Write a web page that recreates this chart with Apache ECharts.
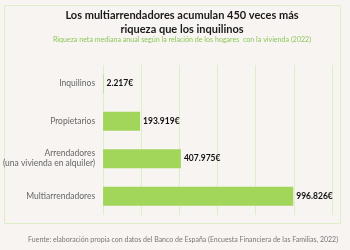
<!DOCTYPE html>
<html><head><meta charset="utf-8">
<script src="https://cdn.jsdelivr.net/npm/echarts@6/dist/echarts.min.js"></script>
<style>html,body{margin:0;padding:0;background:#f8f4f2}#c{width:350px;height:250px}</style>
</head><body><div id="c"></div>
<script>
var categories = ["Inquilinos", "Propietarios", "Arrendadores\n(una vivienda en alquiler)", "Multiarrendadores"];
var values = [2217, 193919, 407975, 996826];
var valueLabels = ["2.217€", "193.919€", "407.975€", "996.826€"];
var titleText = "Los multiarrendadores acumulan 450 veces más\nriqueza que los inquilinos";
var subtitleText = "Riqueza neta mediana anual según la relación de los hogares  con la vivienda (2022)";
var sourceText = "Fuente: elaboración propia con datos del Banco de España (Encuesta Financiera de las Familias, 2022)";

var chart = echarts.init(document.getElementById('c'));
chart.setOption({
  backgroundColor: '#f8f4f2',
  animation: false,
  graphic: [
    {type: 'rect', shape: {x: 4.5, y: 5.5, width: 336, height: 218}, style: {fill: 'none', stroke: '#ddeec9', lineWidth: 1}, z: -1},
    {type: 'text', x: 182, y: 9, style: {text: titleText, font: 'bold 11px Lato', fill: '#1a1a1a', textAlign: 'center', lineHeight: 13.5}},
    {type: 'text', x: 182, y: 36, style: {text: subtitleText, font: '7.1px Lato', fill: '#8cc85a', textAlign: 'center'}},
    {type: 'text', x: 338, y: 236, style: {text: sourceText, font: '7px Lato', fill: '#777', textAlign: 'right'}}
  ],
  grid: {left: 98, right: 18, top: 65, bottom: 35},
  xAxis: {type: 'value', min: 0, max: 1200000, interval: 200000,
    axisLabel: {show: false}, axisLine: {show: false}, axisTick: {show: false},
    splitLine: {show: true, lineStyle: {color: '#dcefc6', width: 1}}},
  yAxis: {type: 'category', data: categories, inverse: true,
    axisLine: {show: false}, axisTick: {show: false},
    axisLabel: {color: '#666', fontSize: 8.5, fontFamily: 'Lato', margin: 8, lineHeight: 10}},
  series: [{type: 'bar', data: values, barWidth: 19,
    itemStyle: {color: '#a2d65a'},
    label: {show: true, position: 'right', distance: 3, color: '#111', fontSize: 8.5, fontWeight: 'bold', fontFamily: 'Lato',
      formatter: function(p){ return valueLabels[p.dataIndex]; }}}]
});
</script></body></html>
